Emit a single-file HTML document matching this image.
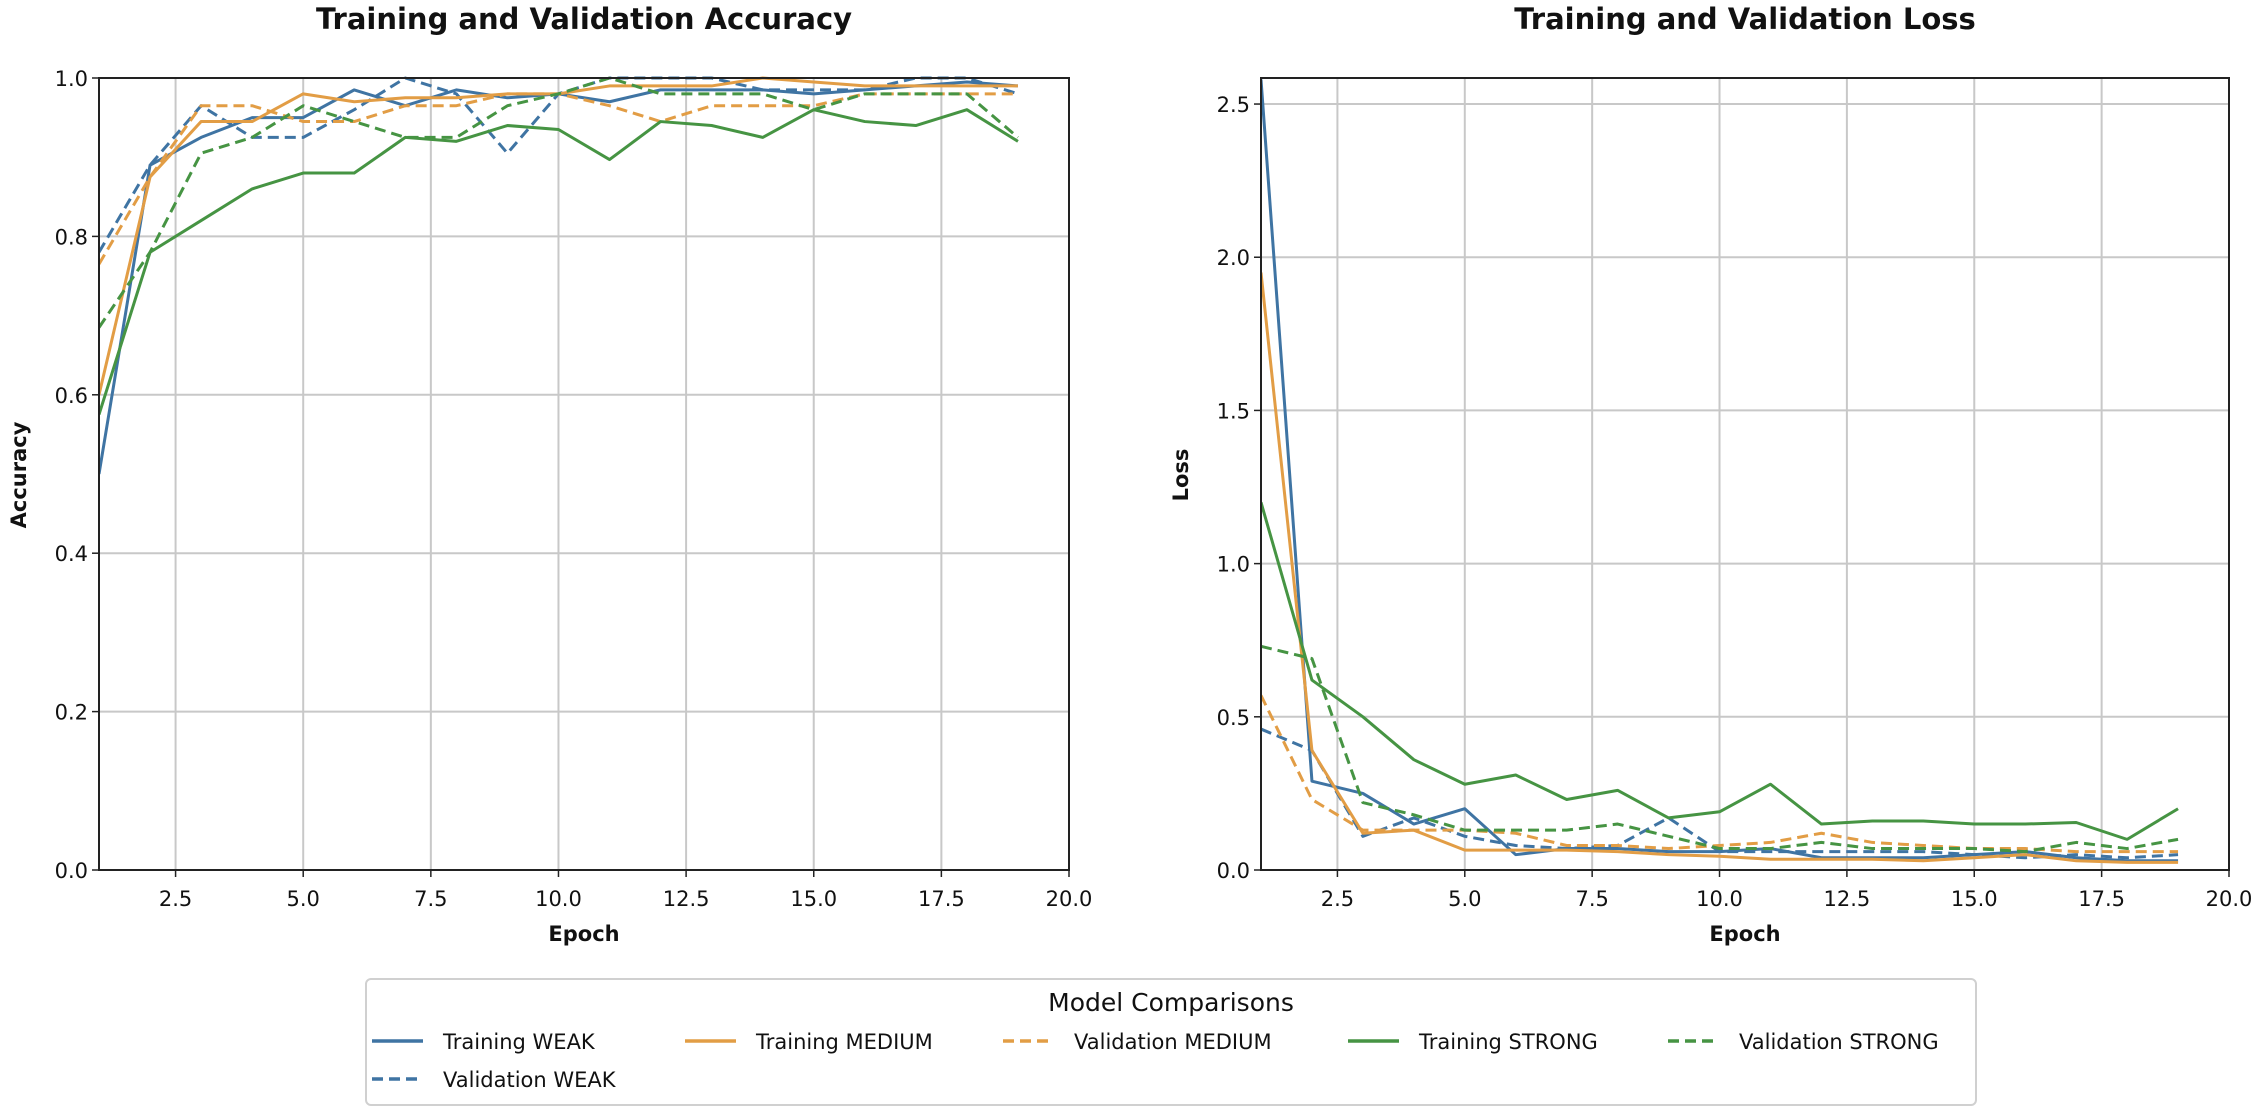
<!DOCTYPE html>
<html><head><meta charset="utf-8"><style>
html,body{margin:0;padding:0;background:#fff}
svg{display:block}
text{font-family:"DejaVu Sans","Liberation Sans",sans-serif;fill:#111}
</style></head><body>
<svg id="c" width="2264" height="1118" viewBox="0 0 2264 1118"></svg>
<script>
const epochs=[1,2,3,4,5,6,7,8,9,10,11,12,13,14,15,16,17,18,19];
const accTrainWeak=[0.50,0.89,0.925,0.95,0.95,0.985,0.965,0.985,0.975,0.98,0.97,0.985,0.985,0.985,0.98,0.985,0.99,0.995,0.99];
const accValWeak=[0.78,0.89,0.965,0.925,0.925,0.96,1.0,0.98,0.905,0.98,1.0,1.0,1.0,0.985,0.985,0.985,1.0,1.0,0.98];
const accTrainMed=[0.60,0.875,0.945,0.945,0.98,0.97,0.975,0.975,0.98,0.98,0.99,0.99,0.99,1.0,0.995,0.99,0.99,0.99,0.99];
const accValMed=[0.765,0.875,0.965,0.965,0.945,0.945,0.965,0.965,0.98,0.98,0.965,0.945,0.965,0.965,0.965,0.98,0.98,0.98,0.98];
const accTrainStrong=[0.575,0.78,0.82,0.86,0.88,0.88,0.925,0.92,0.94,0.935,0.897,0.945,0.94,0.925,0.96,0.945,0.94,0.96,0.92];
const accValStrong=[0.685,0.78,0.905,0.925,0.965,0.945,0.925,0.925,0.965,0.98,1.0,0.98,0.98,0.98,0.96,0.98,0.98,0.98,0.925];
const lossTrainWeak=[2.58,0.29,0.25,0.15,0.20,0.05,0.07,0.07,0.06,0.06,0.07,0.04,0.04,0.04,0.05,0.06,0.04,0.03,0.03];
const lossValWeak=[0.46,0.39,0.11,0.17,0.11,0.08,0.07,0.08,0.17,0.06,0.06,0.06,0.06,0.06,0.05,0.04,0.05,0.04,0.05];
const lossTrainMed=[1.95,0.39,0.12,0.13,0.065,0.065,0.065,0.06,0.05,0.045,0.035,0.035,0.035,0.03,0.04,0.05,0.03,0.025,0.025];
const lossValMed=[0.57,0.23,0.13,0.13,0.13,0.12,0.08,0.08,0.07,0.08,0.09,0.12,0.09,0.08,0.07,0.07,0.06,0.06,0.06];
const lossTrainStrong=[1.2,0.62,0.5,0.36,0.28,0.31,0.23,0.26,0.17,0.19,0.28,0.15,0.16,0.16,0.15,0.15,0.155,0.10,0.20];
const lossValStrong=[0.73,0.69,0.22,0.18,0.13,0.13,0.13,0.15,0.11,0.07,0.07,0.09,0.07,0.07,0.07,0.06,0.09,0.07,0.10];
const xTicks=[2.5,5.0,7.5,10.0,12.5,15.0,17.5,20.0];
const accYTicks=[0.0,0.2,0.4,0.6,0.8,1.0];
const lossYTicks=[0.0,0.5,1.0,1.5,2.0,2.5];

const NS='http://www.w3.org/2000/svg';
const svg=document.getElementById('c');
function mk(tag,attrs,parent){const e=document.createElementNS(NS,tag);for(const k in attrs)e.setAttribute(k,attrs[k]);(parent||svg).appendChild(e);return e;}
const C={blue:'#3f74a3',orange:'#e29d45',green:'#469443'};
const Y0=78,Y1=870;

function panel(cfg){
  const g=mk('g',{});
  
  
  const X=v=>cfg.x0+(v-1)/(20-1)*(cfg.x1-cfg.x0);
  const Y=v=>Y1-(v-0)/(cfg.ymax)*(Y1-Y0);
  xTicks.forEach(t=>{
    const l=mk('line',{x1:X(t),x2:X(t),y1:Y0,y2:Y1,stroke:'#c8c8c8','stroke-width':2},g);
    
    
    mk('line',{x1:X(t),x2:X(t),y1:Y1,y2:Y1+7,stroke:'#222','stroke-width':1.5},g);
    const tx=mk('text',{x:X(t),y:Y1+36,'text-anchor':'middle','font-size':21},g);
    tx.textContent=t.toFixed(1);
    
    
  });
  cfg.yTicks.forEach(t=>{
    const l=mk('line',{x1:cfg.x0,x2:cfg.x1,y1:Y(t),y2:Y(t),stroke:'#c8c8c8','stroke-width':2},g);
    
    
    mk('line',{x1:cfg.x0-7,x2:cfg.x0,y1:Y(t),y2:Y(t),stroke:'#222','stroke-width':1.5},g);
    const tx=mk('text',{x:cfg.x0-11,y:Y(t)+8,'text-anchor':'end','font-size':21},g);
    tx.textContent=t.toFixed(1);
    
    
  });
  const clip='clip'+cfg.name;
  const cp=mk('clipPath',{id:clip},g);
  mk('rect',{x:cfg.x0,y:Y0-3,width:cfg.x1-cfg.x0,height:Y1-Y0+3},cp);
  cfg.series.forEach(s=>{
    const p=mk('polyline',{points:epochs.map((e,i)=>X(e)+','+Y(s.v[i])).join(' '),fill:'none',stroke:s.c,'stroke-width':3,'stroke-linejoin':'round','clip-path':'url(#'+clip+')'},g);
    if(s.d)p.setAttribute('stroke-dasharray','11 6');
    
    
  });
  const fr=mk('rect',{x:cfg.x0,y:Y0,width:cfg.x1-cfg.x0,height:Y1-Y0,fill:'none',stroke:'#222','stroke-width':2},g);
  
  
  const ti=mk('text',{x:(cfg.x0+cfg.x1)/2,y:29,'text-anchor':'middle','font-size':29,'font-weight':'bold'},g);
  ti.textContent=cfg.title;
  
  
  const xl=mk('text',{x:(cfg.x0+cfg.x1)/2,y:941,'text-anchor':'middle','font-size':21,'font-weight':'bold'},g);
  xl.textContent='Epoch';
  
  
  const yl=mk('text',{x:cfg.ylx,y:475,'text-anchor':'middle','font-size':21,'font-weight':'bold',transform:'rotate(-90 '+cfg.ylx+' 475)'},g);
  yl.textContent=cfg.ylabel;
  
  
}
panel({name:'accuracy-panel',title:'Training and Validation Accuracy',ylabel:'Accuracy',ylx:26,x0:99,x1:1069,ymax:1.0,yTicks:accYTicks,series:[
 {n:'line-training-weak',v:accTrainWeak,c:C.blue},{n:'line-validation-weak',v:accValWeak,c:C.blue,d:1},
 {n:'line-training-medium',v:accTrainMed,c:C.orange},{n:'line-validation-medium',v:accValMed,c:C.orange,d:1},
 {n:'line-training-strong',v:accTrainStrong,c:C.green},{n:'line-validation-strong',v:accValStrong,c:C.green,d:1}]});
panel({name:'loss-panel',title:'Training and Validation Loss',ylabel:'Loss',ylx:1188,x0:1261,x1:2229,ymax:2.585,yTicks:lossYTicks,series:[
 {n:'line-training-weak',v:lossTrainWeak,c:C.blue},{n:'line-validation-weak',v:lossValWeak,c:C.blue,d:1},
 {n:'line-training-medium',v:lossTrainMed,c:C.orange},{n:'line-validation-medium',v:lossValMed,c:C.orange,d:1},
 {n:'line-training-strong',v:lossTrainStrong,c:C.green},{n:'line-validation-strong',v:lossValStrong,c:C.green,d:1}]});

// legend
const lg=mk('g',{});


mk('rect',{x:366,y:979,width:1610,height:126,rx:5,fill:'#fff',stroke:'#d0d0d0','stroke-width':2},lg);
const lt=mk('text',{x:1171,y:1011,'text-anchor':'middle','font-size':25},lg);
lt.textContent='Model Comparisons';


const legendLabels=['Training WEAK','Training MEDIUM','Validation MEDIUM','Training STRONG','Validation STRONG','Validation WEAK'];
const legItems=[[372,1041,C.blue,0],[685,1041,C.orange,0],[1003,1041,C.orange,1],[1348,1041,C.green,0],[1668,1041,C.green,1],[372,1079,C.blue,1]];
legItems.forEach((it,i)=>{
  const eg=mk('g',{},lg);
  
  
  const l=mk('line',{x1:it[0],x2:it[0]+51,y1:it[1],y2:it[1],stroke:it[2],'stroke-width':3.5},eg);
  if(it[3])l.setAttribute('stroke-dasharray','11 6');
  const t=mk('text',{x:it[0]+71,y:it[1]+8,'font-size':21},eg);
  t.textContent=legendLabels[i];
});
</script>
</body></html>
